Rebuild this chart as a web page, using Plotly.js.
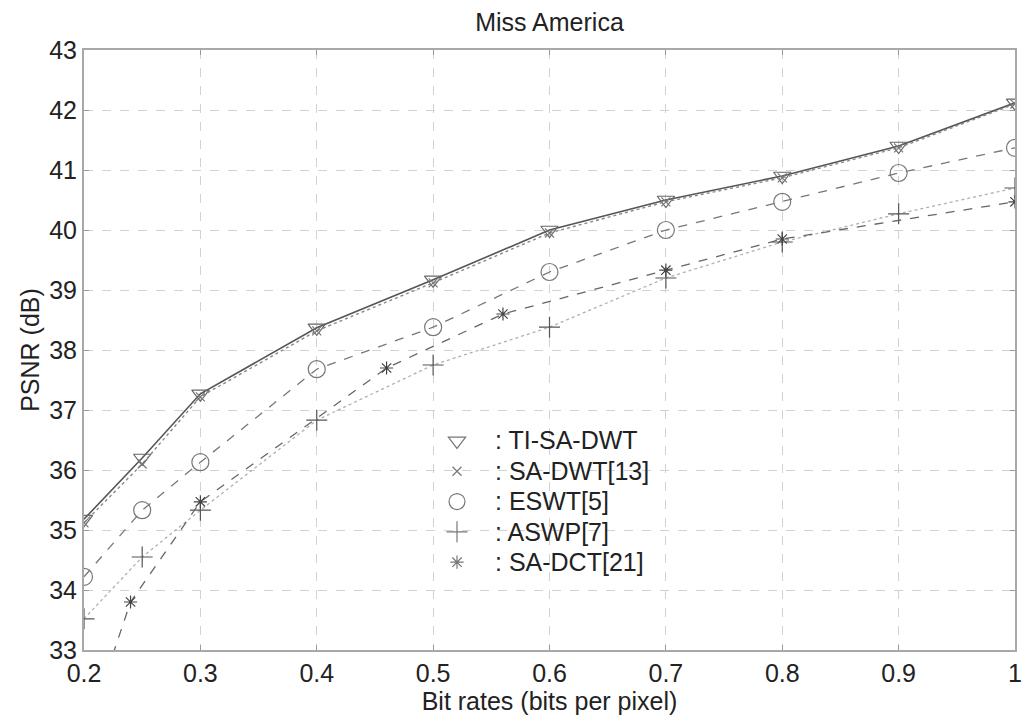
<!DOCTYPE html>
<html>
<head>
<meta charset="utf-8">
<script src="https://cdn.plot.ly/plotly-3.0.1.min.js"></script>
<style>html,body{margin:0;padding:0;background:#fff;}#chart{width:1029px;height:725px;}</style>
</head>
<body>
<div id="chart"></div>
<script>
// Data
const bitRates = [0.2, 0.25, 0.3, 0.4, 0.5, 0.6, 0.7, 0.8, 0.9, 1.0];
const tiSaDwt  = [35.18, 36.20, 37.27, 38.37, 39.17, 40.00, 40.50, 40.90, 41.40, 42.12];
const saDwt    = [35.12, 36.10, 37.22, 38.32, 39.12, 39.95, 40.47, 40.87, 41.37, 42.10];
const eswt     = [34.22, 35.33, 36.13, 37.68, 38.38, 39.30, 40.00, 40.47, 40.95, 41.37];
const aswp     = [33.52, 34.55, 35.33, 36.83, 37.75, 38.38, 39.20, 39.80, 40.27, 40.70];
const dctRates = [0.2, 0.24, 0.3, 0.46, 0.56, 0.7, 0.8, 1.0];
const saDct    = [31.5, 33.80, 35.47, 37.70, 38.60, 39.33, 39.85, 40.47];

const names = [': TI-SA-DWT', ': SA-DWT[13]', ': ESWT[5]', ': ASWP[7]', ': SA-DCT[21]'];
const xTickVals = [0.2, 0.3, 0.4, 0.5, 0.6, 0.7, 0.8, 0.9, 1.0];
const xTickText = ['0.2', '0.3', '0.4', '0.5', '0.6', '0.7', '0.8', '0.9', '1'];

const styles = [
  {sym: 'triangle-down-open', size: 15, mc: '#666', lc: '#555', dash: 'solid', w: 1.6},
  {sym: 'x-thin-open',        size: 9,  mc: '#777', lc: '#888', dash: 'dot',   w: 1.4},
  {sym: 'circle-open',        size: 17, mc: '#777', lc: '#777', dash: 'dash',  w: 1.3},
  {sym: 'cross-thin-open',    size: 15, mc: '#555', lc: '#b0b0b0', dash: 'dot', w: 1.3},
  {sym: 'asterisk-open',      size: 11, mc: '#444', lc: '#666', dash: 'dash',  w: 1.3}
];
const seriesX = [bitRates, bitRates, bitRates, bitRates, dctRates];
const seriesY = [tiSaDwt, saDwt, eswt, aswp, saDct];

const traces = [];
for (let i = 0; i < 5; i++) {
  const s = styles[i];
  traces.push({
    x: seriesX[i], y: seriesY[i], type: 'scatter', mode: 'lines+markers',
    showlegend: false,
    line: {color: s.lc, width: s.w, dash: s.dash},
    marker: {symbol: s.sym, size: s.size, color: s.mc, line: {color: s.mc, width: 1.2}}
  });
}
// legend symbols only (text drawn as annotations for tighter row spacing)
for (let i = 0; i < 5; i++) {
  const s = styles[i];
  traces.push({
    x: [null], y: [null], type: 'scatter', mode: 'markers', name: '\u00a0',
    marker: {symbol: s.sym, size: s.size, color: '#777', line: {color: '#777', width: 1.2}}
  });
}

// legend text rows (pixel rows in the figure -> paper coords)
const plotTop = 50, plotH = 600, plotL = 84, plotW = 931;
const rowPx = [440, 470.5, 501, 531.5, 562];
const annotations = names.map((t, i) => ({
  xref: 'paper', yref: 'paper',
  x: (493 - plotL) / plotW, y: 1 - (rowPx[i] - plotTop) / plotH,
  xanchor: 'left', yanchor: 'middle', showarrow: false,
  text: t, font: {family: 'Liberation Sans, Arial, sans-serif', size: 25, color: '#222'}
}));

const font = {family: 'Liberation Sans, Arial, sans-serif', color: '#222'};
const layout = {
  width: 1029, height: 725,
  margin: {l: plotL, r: 14, t: plotTop, b: 75},
  paper_bgcolor: '#fff', plot_bgcolor: '#fff',
  font: Object.assign({size: 25}, font),
  title: {text: 'Miss America', font: Object.assign({size: 25}, font), x: 0.534, xanchor: 'center', y: 0.97, yanchor: 'middle'},
  xaxis: {
    range: [0.2, 1.0], tickvals: xTickVals, ticktext: xTickText,
    ticks: 'inside', ticklen: 5, tickcolor: '#999',
    showgrid: true, gridcolor: '#d2d2d2', gridwidth: 1, griddash: 'dash',
    showline: true, linecolor: '#a8a8a8', linewidth: 2, mirror: 'ticks',
    zeroline: false, tickfont: Object.assign({size: 25}, font),
    title: {text: 'Bit rates (bits per pixel)', font: Object.assign({size: 25}, font), standoff: 4}
  },
  yaxis: {
    range: [33, 43], dtick: 1,
    ticks: 'inside', ticklen: 5, tickcolor: '#999',
    showgrid: true, gridcolor: '#d2d2d2', gridwidth: 1, griddash: 'dash',
    showline: true, linecolor: '#a8a8a8', linewidth: 2, mirror: 'ticks',
    zeroline: false, tickfont: Object.assign({size: 25}, font),
    title: {text: 'PSNR (dB)', font: Object.assign({size: 25}, font), standoff: 2}
  },
  legend: {
    x: (437 - plotL) / plotW, y: 0.382, xanchor: 'left', yanchor: 'top',
    bgcolor: 'rgba(0,0,0,0)', borderwidth: 0, tracegroupgap: 0,
    font: Object.assign({size: 21}, font), itemwidth: 30
  },
  annotations: annotations
};

Plotly.newPlot('chart', traces, layout, {displayModeBar: false, staticPlot: true});
</script>
</body>
</html>
